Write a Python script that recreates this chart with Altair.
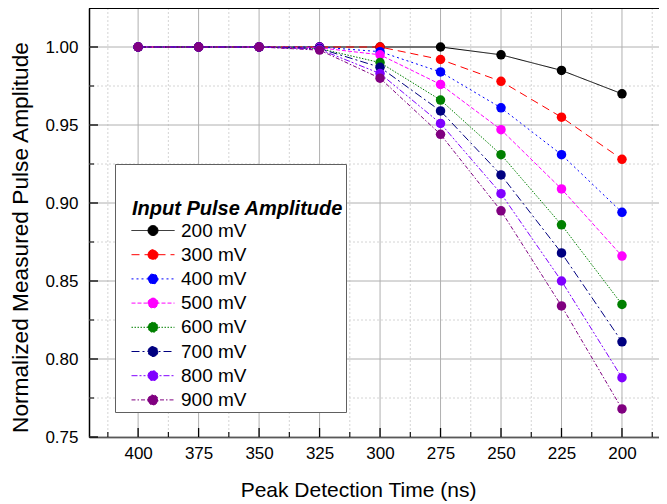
import altair as alt
import pandas as pd

# ---------------- data ----------------
times = [400, 375, 350, 325, 300, 275, 250, 225, 200]
series = ["200 mV", "300 mV", "400 mV", "500 mV", "600 mV", "700 mV", "800 mV", "900 mV"]
v200 = [1.000, 1.000, 1.000, 1.000, 1.000, 1.000, 0.995, 0.985, 0.970]
v300 = [1.000, 1.000, 1.000, 1.000, 1.000, 0.992, 0.978, 0.955, 0.928]
v400 = [1.000, 1.000, 1.000, 1.000, 0.997, 0.984, 0.961, 0.931, 0.894]
v500 = [1.000, 1.000, 1.000, 0.9995, 0.995, 0.976, 0.947, 0.909, 0.866]
v600 = [1.000, 1.000, 1.000, 0.999, 0.990, 0.966, 0.931, 0.886, 0.835]
v700 = [1.000, 1.000, 1.000, 0.999, 0.987, 0.959, 0.918, 0.868, 0.811]
v800 = [1.000, 1.000, 1.000, 0.9985, 0.983, 0.951, 0.906, 0.850, 0.788]
v900 = [1.000, 1.000, 1.000, 0.998, 0.980, 0.944, 0.895, 0.834, 0.768]
values = [v200, v300, v400, v500, v600, v700, v800, v900]

colors = ["#000000", "#ff0000", "#0000ff", "#ff00ff", "#008000", "#000080", "#8000ff", "#800080"]
dashes = [[1, 0], [8, 5], [2, 3], [4, 2], [1.5, 1.5], [8, 3, 2, 3], [6, 2, 2, 2, 2, 2], [4, 2, 1.5, 2]]

x_major = [400, 375, 350, 325, 300, 275, 250, 225, 200]
x_minor = [412.5, 387.5, 362.5, 337.5, 312.5, 287.5, 262.5, 237.5, 212.5, 187.5]
y_major = [0.75, 0.80, 0.85, 0.90, 0.95, 1.00]
y_minor = [0.775, 0.825, 0.875, 0.925, 0.975]

# a blank (non-whitespace) pattern character pads the title inside the legend box
legend_title = "\u2800Input Pulse Amplitude"

rows = []
for s, vals in zip(series, values):
    for t, v in zip(times, vals):
        rows.append({"series": s, "time": t, "value": v})
df = pd.DataFrame(rows)

W, H = 570, 429
FONT = "Liberation Sans"

xs = alt.Scale(domain=[184.7, 420.3], reverse=True, nice=False, zero=False)
ys = alt.Scale(domain=[0.75, 1.025], nice=False, zero=False)

color_scale = alt.Scale(domain=series, range=colors)
dash_scale = alt.Scale(domain=series, range=dashes)

sym_path = "M-4.3,0L4.3,0M-1,0A1,1,0,1,1,1,0A1,1,0,1,1,-1,0Z"
leg = alt.Legend(
    title=[" ", legend_title],
    orient="none", legendX=26, legendY=156,
    fillColor="white", strokeColor="#606060", padding=2,
    symbolType=sym_path, symbolSize=100, symbolStrokeWidth=1,
    symbolOffset=26.5, labelOffset=18.5,
    labelFont=FONT, labelFontSize=19, labelColor="black",
    titleFont=FONT, titleFontSize=20, titleFontStyle="italic", titleFontWeight="bold",
    titleColor="black", titleLineHeight=33, titlePadding=2, rowPadding=4.2,
    titleLimit=400, labelLimit=300,
)

x_axis = alt.Axis(values=x_major, format="d", ticks=False, tickSize=0, grid=False,
                  domainColor="black", domainWidth=1.5, labelFont=FONT, labelFontSize=17,
                  labelColor="black", labelPadding=8, title="Peak Detection Time (ns)",
                  titleFont=FONT, titleFontSize=21, titleFontWeight="normal", titleColor="black",
                  titleX=269, titleY=59, titleBaseline="alphabetic")
y_axis = alt.Axis(values=y_major, format=".2f", ticks=False, tickSize=0, grid=False,
                  domainColor="black", domainWidth=1.5, labelFont=FONT, labelFontSize=17,
                  labelColor="black", labelPadding=11, title="Normalized Measured Pulse Amplitude",
                  titleFont=FONT, titleFontSize=22.7, titleFontWeight="normal", titleColor="black",
                  titleX=-62, titleY=229, titleBaseline="alphabetic", titleAlign="center")


def X(field):
    return alt.X(field, scale=xs, axis=x_axis)


def Y(field):
    return alt.Y(field, scale=ys, axis=y_axis)


grid_x_minor = alt.Chart(pd.DataFrame({"v": x_minor})).mark_rule(
    color="#d4d4d4", strokeWidth=1, strokeDash=[2, 2]).encode(x=X("v:Q"))
grid_y_minor = alt.Chart(pd.DataFrame({"v": y_minor})).mark_rule(
    color="#d4d4d4", strokeWidth=1, strokeDash=[2, 2]).encode(y=Y("v:Q"))
grid_x_major = alt.Chart(pd.DataFrame({"v": x_major})).mark_rule(
    color="#b0b0b0", strokeWidth=1).encode(x=X("v:Q"))
grid_y_major = alt.Chart(pd.DataFrame({"v": y_major})).mark_rule(
    color="#b0b0b0", strokeWidth=1).encode(y=Y("v:Q"))

tick_x_major = alt.Chart(pd.DataFrame({"v": x_major})).mark_rule(
    color="black", strokeWidth=1.3).encode(x=X("v:Q"), y=alt.value(H), y2=alt.value(H - 9))
tick_x_minor = alt.Chart(pd.DataFrame({"v": x_minor})).mark_rule(
    color="black", strokeWidth=1.1).encode(x=X("v:Q"), y=alt.value(H), y2=alt.value(H - 5))
tick_y_major = alt.Chart(pd.DataFrame({"v": y_major})).mark_rule(
    color="black", strokeWidth=1.3).encode(y=Y("v:Q"), x=alt.value(0), x2=alt.value(9))
tick_y_minor = alt.Chart(pd.DataFrame({"v": y_minor})).mark_rule(
    color="black", strokeWidth=1.1).encode(y=Y("v:Q"), x=alt.value(0), x2=alt.value(5))
top_border = alt.Chart(pd.DataFrame({"v": [1.025]})).mark_rule(
    color="black", strokeWidth=2).encode(y=Y("v:Q"))

lines = alt.Chart(df).mark_line(strokeWidth=1).encode(
    x=X("time:Q"),
    y=Y("value:Q"),
    color=alt.Color("series:N", scale=color_scale, legend=leg),
    strokeDash=alt.StrokeDash("series:N", scale=dash_scale, legend=leg),
    order=alt.Order("time:Q", sort="descending"),
)
points = alt.Chart(df).mark_circle(size=90, opacity=1).encode(
    x=X("time:Q"),
    y=Y("value:Q"),
    color=alt.Color("series:N", scale=color_scale, legend=leg),
)

chart = alt.layer(
    grid_x_minor, grid_y_minor, grid_x_major, grid_y_major,
    lines, points,
    tick_x_major, tick_x_minor, tick_y_major, tick_y_minor, top_border,
).properties(
    width=W, height=H,
    autosize=alt.AutoSizeParams(type="none"),
    padding={"left": 81, "top": 0, "right": 0, "bottom": 66},
).configure(font=FONT).configure_view(stroke=None)

chart.save("out.html", embed_options={"renderer": "svg", "actions": False})
